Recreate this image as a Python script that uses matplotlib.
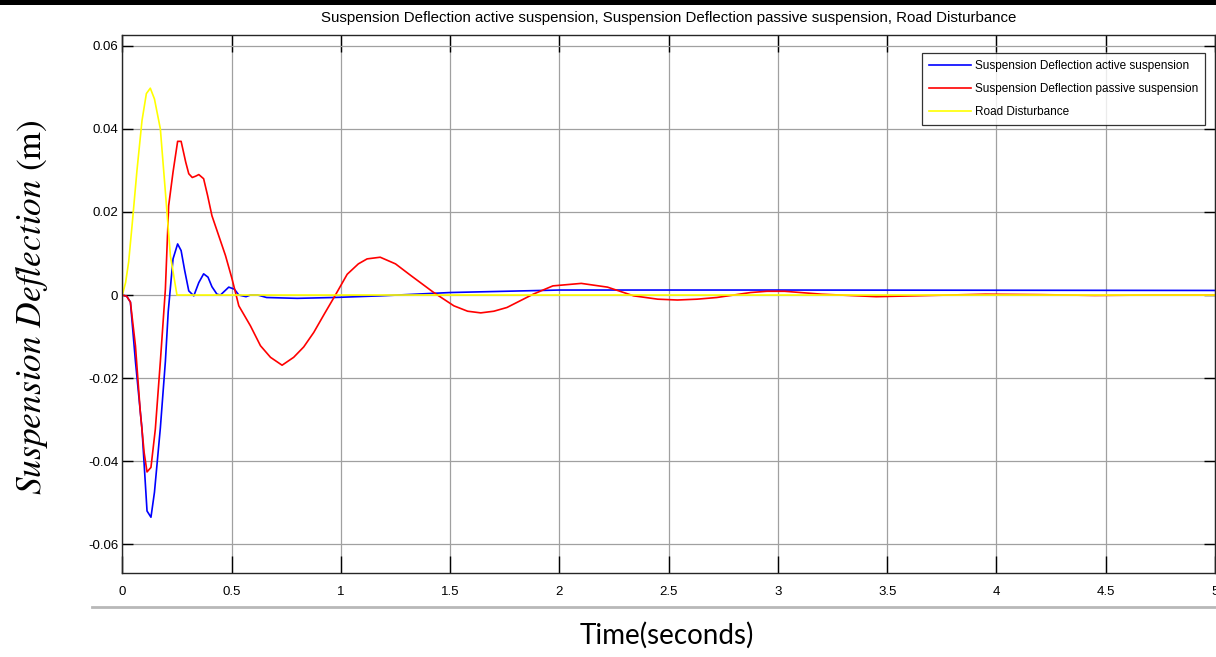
import matplotlib
matplotlib.use("Agg")
import numpy as np
from matplotlib import pyplot as plt
from matplotlib.lines import Line2D
from matplotlib.patches import Rectangle

# values (time in s, deflection in m)
t_active = [0, 0.02, 0.037, 0.06, 0.09, 0.113, 0.131, 0.147, 0.174, 0.197, 0.21,
            0.232, 0.253, 0.269, 0.285, 0.304, 0.327, 0.35, 0.372, 0.392, 0.41,
            0.433, 0.449, 0.487, 0.513, 0.533, 0.566, 0.586, 0.62, 0.66, 0.8,
            0.967, 1.18, 1.5, 2.0, 2.5, 3.0, 5.0]
y_active = [0, -0.0003, -0.0017, -0.016, -0.0323, -0.052, -0.0535, -0.0475, -0.032,
            -0.016, -0.004, 0.0087, 0.0123, 0.0107, 0.006, 0.001, -0.0002, 0.003,
            0.0051, 0.0043, 0.002, 0.0002, 0.0, 0.0019, 0.0014, 0.0, -0.0004, 0.0,
            0.0, -0.0006, -0.0008, -0.0006, -0.0002, 0.0006, 0.0012, 0.0012,
            0.0012, 0.0011]

t_passive = [0, 0.02, 0.037, 0.06, 0.082, 0.1, 0.113, 0.131, 0.151, 0.174, 0.197,
             0.212, 0.232, 0.253, 0.269, 0.29, 0.304, 0.32, 0.335, 0.35, 0.372,
             0.39, 0.41, 0.441, 0.472, 0.502, 0.533, 0.586, 0.632, 0.678, 0.731,
             0.784, 0.83, 0.876, 0.925, 0.975, 1.029, 1.08, 1.12, 1.18, 1.25,
             1.32, 1.425, 1.517, 1.58, 1.64, 1.7, 1.76, 1.88, 1.97, 2.1, 2.22,
             2.34, 2.45, 2.54, 2.63, 2.72, 2.875, 2.95, 3.03, 3.2, 3.45, 3.7,
             3.95, 4.2, 4.45, 4.7, 5.0]
y_passive = [0, -0.0003, -0.0017, -0.0122, -0.028, -0.038, -0.0426, -0.0415,
             -0.0323, -0.016, 0.0014, 0.0215, 0.0296, 0.037, 0.037, 0.032, 0.0292,
             0.0283, 0.0286, 0.029, 0.028, 0.024, 0.0191, 0.0143, 0.0095, 0.0039,
             -0.0026, -0.0074, -0.0122, -0.015, -0.0169, -0.015, -0.0125, -0.009,
             -0.0045, 0.0, 0.005, 0.0075, 0.0087, 0.0091, 0.0075, 0.0047, 0.0006,
             -0.0026, -0.0039, -0.0043, -0.0039, -0.003, 0.0002, 0.0022, 0.0028,
             0.0019, -0.0002, -0.001, -0.0012, -0.001, -0.0006, 0.0006, 0.0009,
             0.0009, 0.0002, -0.0004, -0.0001, 0.0002, 0.0001, -0.0001, 0.0, 0.0]

t_road = [0, 0.015, 0.029, 0.045, 0.067, 0.09, 0.11, 0.128, 0.147, 0.174, 0.197,
          0.22, 0.25, 5.0]
y_road = [0, 0.003, 0.008, 0.017, 0.030, 0.042, 0.0485, 0.0498, 0.0472, 0.040,
          0.0248, 0.0094, 0.0, 0.0]

labels = ["Suspension Deflection active suspension",
          "Suspension Deflection passive suspension",
          "Road Disturbance"]
x_ticks = [0, 0.5, 1, 1.5, 2, 2.5, 3, 3.5, 4, 4.5, 5]
y_ticks = [-0.06, -0.04, -0.02, 0, 0.02, 0.04, 0.06]

plt.rcParams["font.family"] = ["Liberation Sans", "DejaVu Sans"]
plt.rcParams["mathtext.fontset"] = "stix"

fig = plt.figure(figsize=(12.16, 6.57), dpi=100)
ax = fig.add_axes([0.1006, 0.1274, 0.8986, 0.8193])

ax.plot(t_active, y_active, color="#0000ff", lw=1.2, label=labels[0])
ax.plot(t_passive, y_passive, color="#ff0000", lw=1.2, label=labels[1])
ax.plot(t_road, y_road, color="#ffff00", lw=1.2, label=labels[2])

ax.set_xlim(0, 5)
ax.set_ylim(-0.067, 0.0626)
ax.set_xticks(x_ticks)
ax.set_xticklabels([f"{v:g}" for v in x_ticks])
ax.set_yticks(y_ticks)
ax.set_yticklabels(["0" if v == 0 else f"{v:.2f}" for v in y_ticks])
ax.grid(True, color="#a0a0a0", lw=0.9)
ax.set_axisbelow(True)
ax.tick_params(axis="x", direction="in", length=12, width=1, pad=9,
               labelsize=9.5, top=True)
ax.tick_params(axis="y", direction="in", length=8, width=1, pad=3,
               labelsize=9.5, right=True)
for s in ax.spines.values():
    s.set_color("#262626")
    s.set_linewidth(1)

leg = ax.legend(loc="upper right", fontsize=8.5, frameon=True, fancybox=False,
                handlelength=3.5, borderaxespad=0.0, bbox_to_anchor=(0.991, 0.966),
                labelspacing=0.9, borderpad=0.6, handletextpad=0.35)
leg.get_frame().set_edgecolor("black")
leg.get_frame().set_linewidth(0.9)

fig.text(0.550, 0.9726, ", ".join(labels), ha="center", va="center", fontsize=10.8)
fig.text(0.026, 0.532, r"$Suspension\ Deflection$ (m)", rotation=90, ha="center",
         va="center", fontsize=25.5, family="STIXGeneral")
fig.text(0.5485, 0.0335, "Time(seconds)", ha="center", va="center", fontsize=20,
         family="Lato")

# black strip at the top edge and grey rule under the axes, as in the screenshot
fig.add_artist(Rectangle((0, 0.992), 1, 0.008, transform=fig.transFigure,
                         color="black", lw=0))
fig.add_artist(Line2D([0.076, 1], [0.076, 0.076], transform=fig.transFigure,
                      color="#b8b8b8", lw=2))

fig.savefig("out.png", dpi=100)
